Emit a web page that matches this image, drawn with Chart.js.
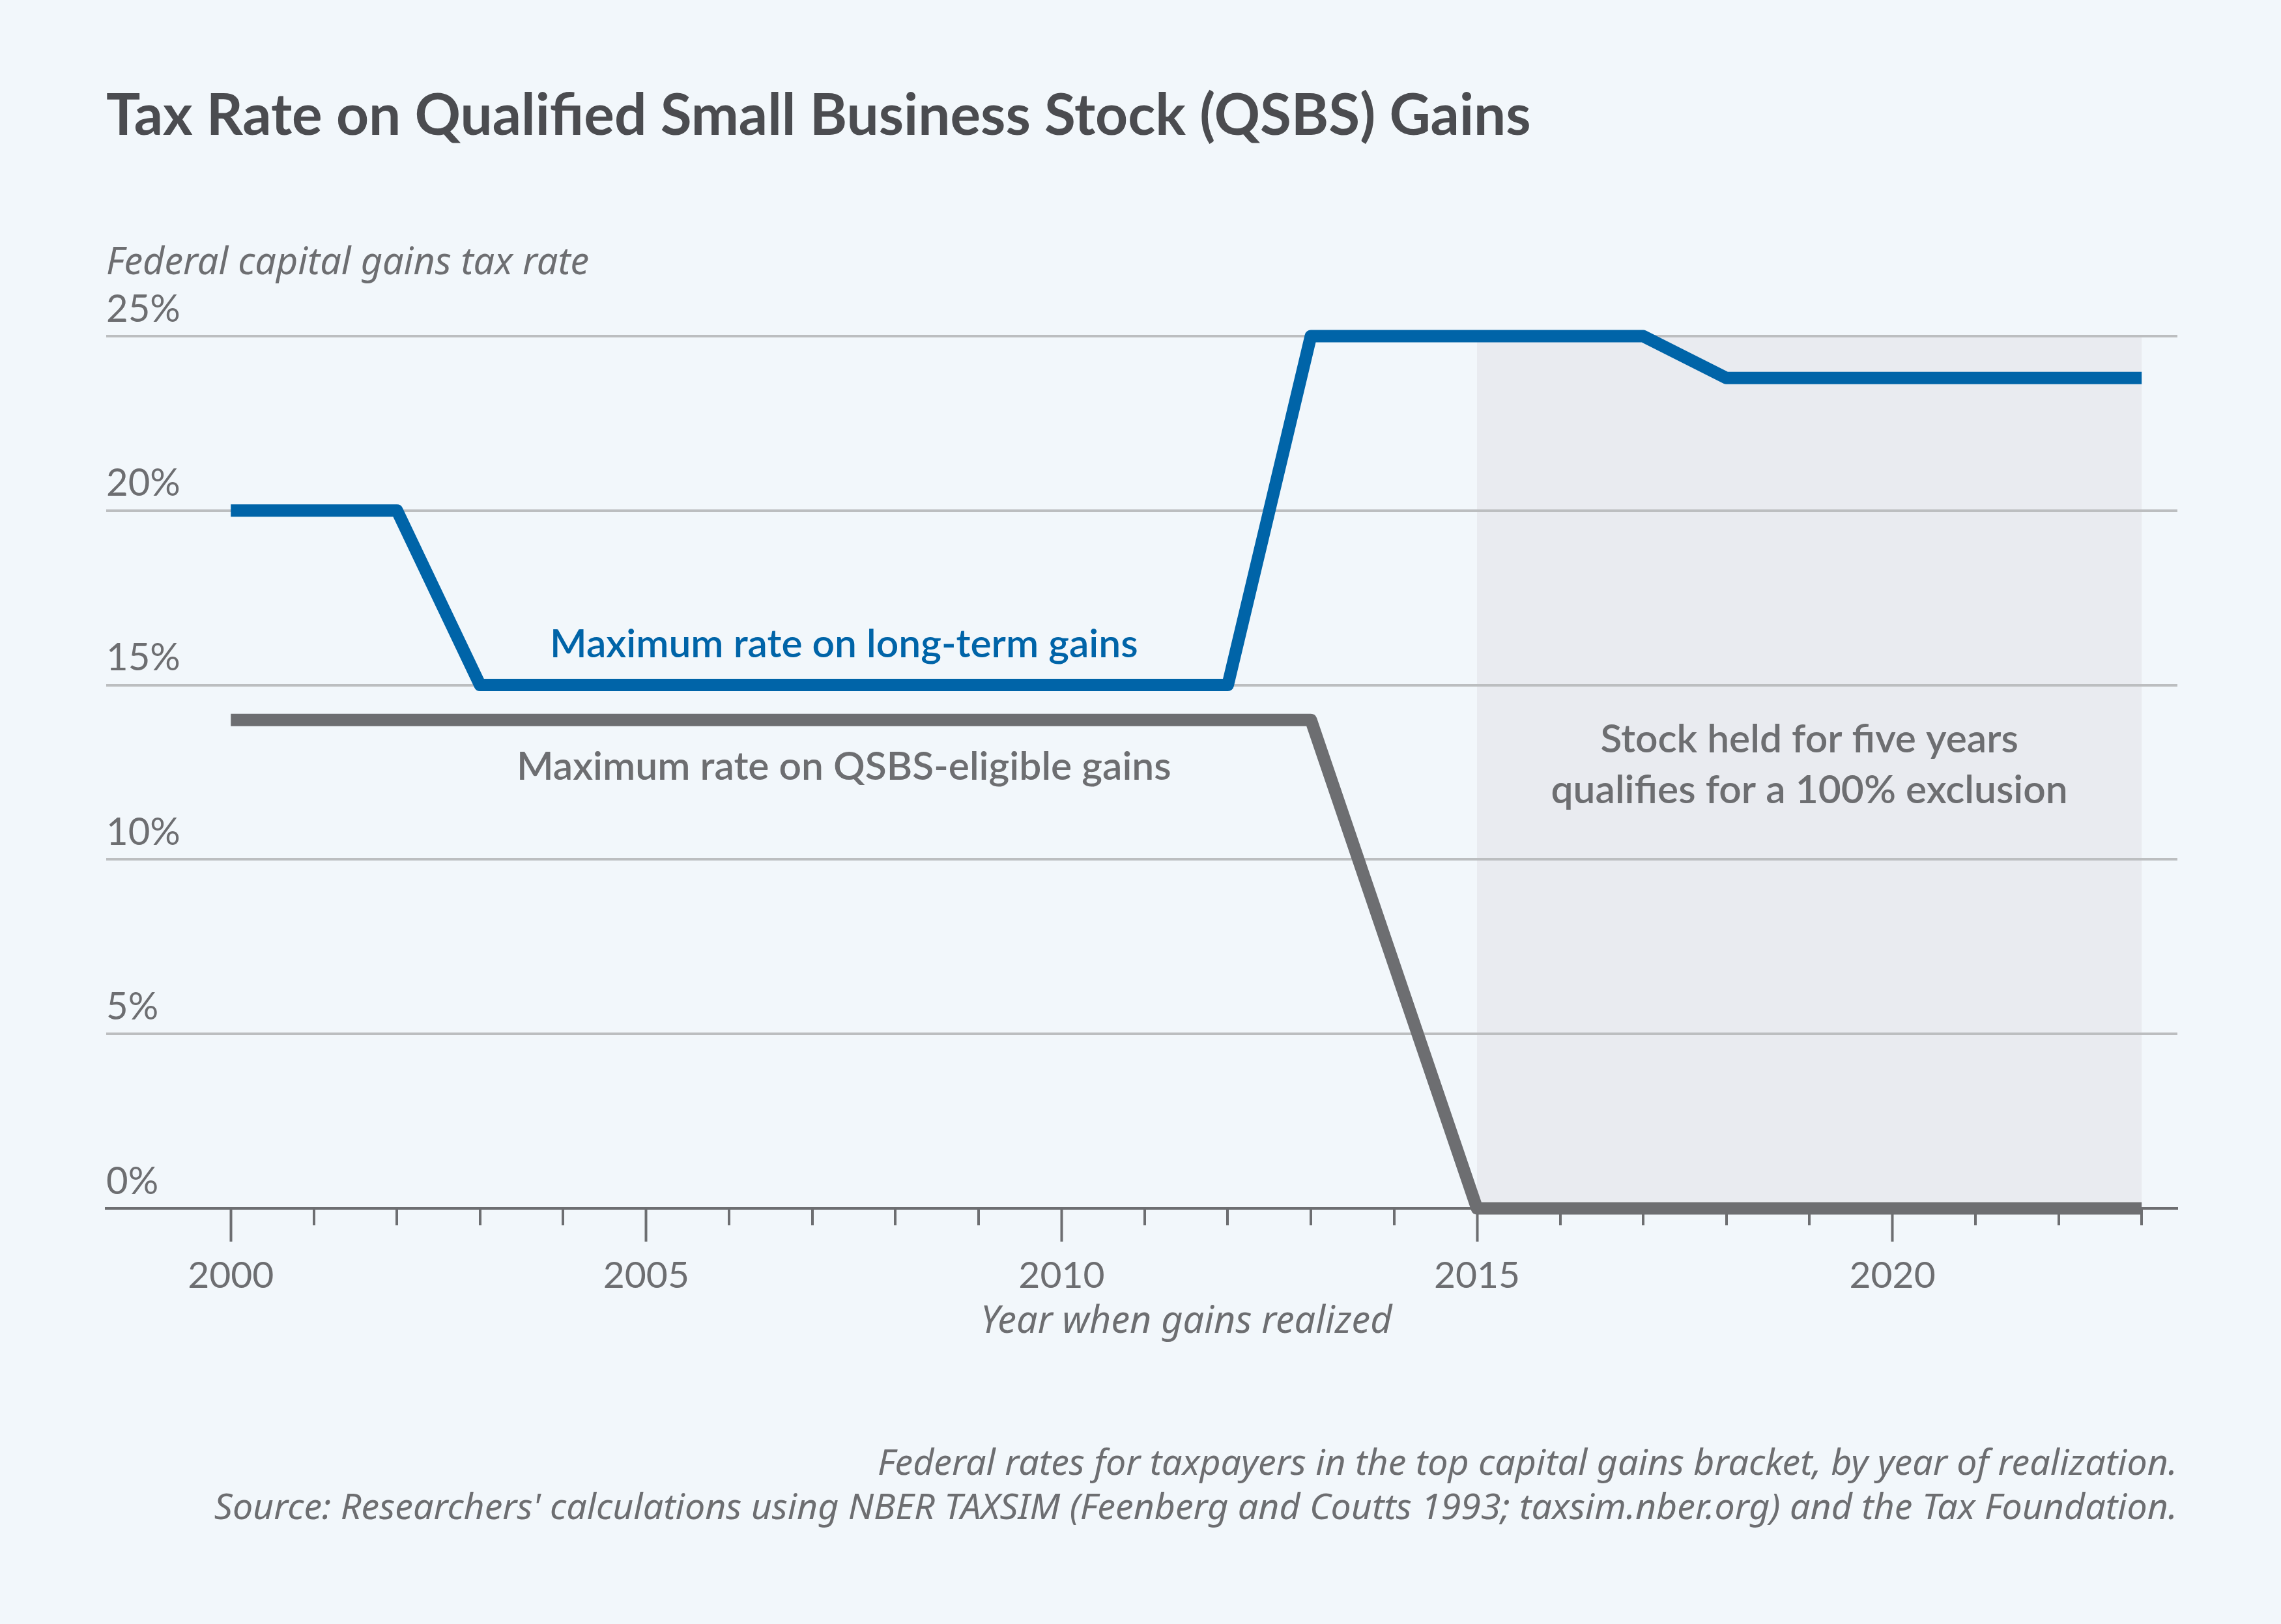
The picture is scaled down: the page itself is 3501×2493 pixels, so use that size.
<!DOCTYPE html>
<html>
<head>
<meta charset="utf-8">
<script src="https://cdn.jsdelivr.net/npm/chart.js@4.4.1/dist/chart.umd.min.js"></script>
<style>
html,body{margin:0;padding:0;background:#f2f7fb;}
canvas{display:block;}
</style>
</head>
<body>
<canvas id="c" width="3501" height="2493" style="width:3501px;height:2493px"></canvas>
<script>
// ---- data ----
const years = [2000,2001,2002,2003,2004,2005,2006,2007,2008,2009,2010,2011,2012,2013,2014,2015,2016,2017,2018,2019,2020,2021,2022,2023];
const longTermRate = [20,20,20,15,15,15,15,15,15,15,15,15,15,25,25,25,25,25,23.8,23.8,23.8,23.8,23.8,23.8];
const qsbsRate = [14,14,14,14,14,14,14,14,14,14,14,14,14,14,7,0,0,0,0,0,0,0,0,0];
const yTickValues = [0,5,10,15,20,25];
const xLabelYears = [2000,2005,2010,2015,2020];
const exclusionPeriod = [2015,2023];

const titleText = 'Tax Rate on Qualified Small Business Stock (QSBS) Gains';
const yTitleText = 'Federal capital gains tax rate';
const xTitleText = 'Year when gains realized';
const longTermLabel = 'Maximum rate on long-term gains';
const qsbsLabel = 'Maximum rate on QSBS-eligible gains';
const shadeNote = ['Stock held for five years','qualifies for a 100% exclusion'];
const footnotes = [
  'Federal rates for taxpayers in the top capital gains bracket, by year of realization.',
  "Source: Researchers' calculations using NBER TAXSIM (Feenberg and Coutts 1993; taxsim.nber.org) and the Tax Foundation."
];

// ---- styles ----
const BG = '#f2f7fb';
const SHADE = '#e9ebf0';
const BLUE = '#0064a8';
const GRAY = '#6d6e71';
const GRID = '#bcbec0';
const TITLE_COLOR = '#4b4c50';
const FONT = 'Lato';
const ITALIC_FONT = '"Noto Sans", Lato';

// label anchors (data coordinates)
const longTermLabelPos = {x: 2007.38, y: 16.15};
const qsbsLabelPos = {x: 2007.38, y: 12.65};
const shadeNoteY = 13.44;

function toPoints(xs, ys){ return xs.map((x,i)=>({x:x, y:ys[i]})); }

const decorPlugin = {
  id: 'decor',
  beforeDraw(chart){
    const {ctx, scales:{x,y}} = chart;
    ctx.save();
    ctx.fillStyle = BG;
    ctx.fillRect(0,0,chart.width,chart.height);
    ctx.fillStyle = SHADE;
    const x0 = x.getPixelForValue(exclusionPeriod[0]);
    const x1 = x.getPixelForValue(exclusionPeriod[1]);
    const y0 = y.getPixelForValue(y.max);
    const y1 = y.getPixelForValue(0);
    ctx.fillRect(x0, y0, x1-x0, y1-y0);
    ctx.restore();
  },
  afterDatasetsDraw(chart){
    const {ctx, chartArea, scales:{x,y}} = chart;
    ctx.save();
    // minor ticks
    ctx.strokeStyle = GRAY;
    ctx.lineWidth = 4;
    years.forEach(v=>{
      if (xLabelYears.includes(v)) return;
      const px = Math.round(x.getPixelForValue(v));
      ctx.beginPath();
      ctx.moveTo(px, chartArea.bottom + 2);
      ctx.lineTo(px, chartArea.bottom + 26);
      ctx.stroke();
    });
    // series labels
    ctx.textAlign = 'center';
    ctx.textBaseline = 'middle';
    ctx.font = '600 60.5px ' + FONT;
    ctx.fillStyle = BLUE;
    ctx.fillText(longTermLabel, x.getPixelForValue(longTermLabelPos.x), y.getPixelForValue(longTermLabelPos.y));
    ctx.fillStyle = GRAY;
    ctx.fillText(qsbsLabel, x.getPixelForValue(qsbsLabelPos.x), y.getPixelForValue(qsbsLabelPos.y));
    // shaded note
    const cx = x.getPixelForValue((exclusionPeriod[0]+exclusionPeriod[1])/2);
    const cy = y.getPixelForValue(shadeNoteY);
    shadeNote.forEach((t,i)=>ctx.fillText(t, cx, cy + i*78));
    // x axis title
    ctx.font = 'italic 57.5px ' + ITALIC_FONT;
    ctx.fillText(xTitleText, x.getPixelForValue((years[0]+years[years.length-1])/2), 2030);
    // footnotes
    ctx.textAlign = 'right';
    ctx.font = 'italic 55.5px ' + ITALIC_FONT;
    footnotes.forEach((t,i)=>ctx.fillText(t, chartArea.right, 2248 + i*68));
    ctx.restore();
  }
};

function build(){
  Chart.defaults.font.family = FONT;
  new Chart(document.getElementById('c'), {
    type: 'line',
    data: {
      datasets: [
        {
          label: longTermLabel,
          data: toPoints(years, longTermRate),
          borderColor: BLUE,
          borderWidth: 19,
          borderJoinStyle: 'round',
          borderCapStyle: 'butt',
          pointRadius: 0,
          tension: 0,
          fill: false,
          clip: false
        },
        {
          label: qsbsLabel,
          data: toPoints(years, qsbsRate),
          borderColor: GRAY,
          borderWidth: 19,
          borderJoinStyle: 'round',
          borderCapStyle: 'butt',
          pointRadius: 0,
          tension: 0,
          fill: false,
          clip: false
        }
      ]
    },
    options: {
      responsive: false,
      devicePixelRatio: 1,
      animation: false,
      events: [],
      layout: { padding: { left: 163, right: 159, top: 0, bottom: 438 } },
      plugins: {
        legend: { display: false },
        tooltip: { enabled: false },
        title: {
          display: true, text: titleText, align: 'start', color: TITLE_COLOR,
          font: { family: FONT, size: 87.3, weight: 'bold', lineHeight: 1.2 },
          padding: { top: 126.6, bottom: 0 }
        },
        subtitle: {
          display: true, text: yTitleText, align: 'start', color: GRAY,
          font: { family: ITALIC_FONT, size: 57.5, style: 'italic', lineHeight: 1.2 },
          padding: { top: 139.1, bottom: 76.5 }
        }
      },
      scales: {
        x: {
          type: 'linear', min: 1998.5, max: 2023.43,
          afterBuildTicks: s => { s.ticks = years.map(v => ({ value: v })); },
          afterFit: s => { s.height = 200; },
          border: { display: true, color: GRAY, width: 4 },
          grid: {
            drawOnChartArea: false, drawTicks: true, tickLength: 51, tickWidth: 4,
            tickColor: c => (c.tick && xLabelYears.includes(c.tick.value)) ? GRAY : 'rgba(0,0,0,0)'
          },
          ticks: {
            autoSkip: false, maxRotation: 0, minRotation: 0, padding: 18, color: GRAY,
            font: { family: FONT, size: 57 },
            callback: v => xLabelYears.includes(v) ? String(v) : ''
          }
        },
        y: {
          min: 0, max: 25,
          afterBuildTicks: s => { s.ticks = yTickValues.map(v => ({ value: v })); },
          afterFit: s => { s.width = 0; },
          border: { display: false },
          grid: {
            drawTicks: false, lineWidth: 4,
            color: c => (c.tick && c.tick.value === 0) ? 'rgba(0,0,0,0)' : GRID
          },
          ticks: {
            mirror: true, padding: 0, labelOffset: -41, color: GRAY,
            font: { family: FONT, size: 58 },
            callback: v => v + '%'
          }
        }
      }
    },
    plugins: [decorPlugin]
  });
}

const fontsToLoad = ['bold 87px Lato', '600 60px Lato', '58px Lato', 'italic 56px "Noto Sans"'];
if (document.fonts && document.fonts.load) {
  Promise.all(fontsToLoad.map(f => document.fonts.load(f))).then(build, build);
} else {
  build();
}
</script>
</body>
</html>
